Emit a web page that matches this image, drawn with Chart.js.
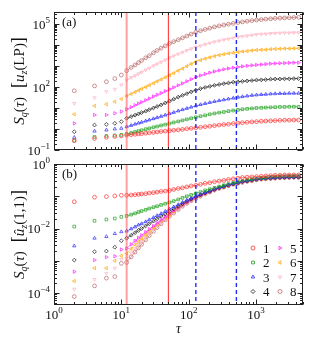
<!DOCTYPE html>
<html>
<head>
<meta charset="utf-8">
<script src="https://cdn.jsdelivr.net/npm/chart.js@4"></script>
<style>
body { margin: 0; background: #fff; }
#wrap { position: relative; width: 315px; height: 350px; }
canvas { position: absolute; left: 0; }
</style>
</head>
<body>
<div id="wrap">
  <canvas id="chartTop" width="315" height="157" style="top:0"></canvas>
  <canvas id="chartBottom" width="315" height="193" style="top:157px"></canvas>
</div>
<script>
// lag tau
const tauValues = [2,4,6,8,10, 12,14,16,18,20, 23,26,30,34,39, 45,52,60,70,81, 94,109,128,150,176,
  206,242,284,333,390, 460,540,630,740,870, 1020,1200,1400,1650,1930, 2270,2660,3120,3660,4300];

// (a) log10 S_q(tau) [u_z(LP)]
const lpQ1 = [-0.55,-0.45,-0.40,-0.36,-0.33, -0.29,-0.27,-0.25,-0.23,-0.22, -0.20,-0.18,-0.16,-0.14,-0.12, -0.10,-0.08,-0.06,-0.04,-0.02, 0.01,0.03,0.06,0.08,0.11, 0.13,0.16,0.19,0.21,0.23, 0.26,0.28,0.30,0.32,0.34, 0.35,0.37,0.38,0.39,0.40, 0.41,0.42,0.42,0.43,0.43];
const lpQ2 = [-0.56,-0.38,-0.33,-0.31,-0.28, -0.24,-0.19,-0.14,-0.10,-0.06, -0.01,0.03,0.08,0.12,0.17, 0.21,0.26,0.31,0.36,0.41, 0.46,0.51,0.56,0.61,0.65, 0.70,0.74,0.78,0.81,0.85, 0.88,0.91,0.94,0.96,0.98, 1.00,1.01,1.02,1.03,1.04, 1.05,1.05,1.06,1.06,1.06];
const lpQ3 = [-0.40,-0.10,-0.05,0.00,0.03, 0.11,0.17,0.23,0.28,0.32, 0.38,0.43,0.49,0.54,0.60, 0.66,0.73,0.79,0.86,0.92, 0.98,1.04,1.10,1.16,1.21, 1.26,1.31,1.35,1.39,1.43, 1.47,1.51,1.54,1.57,1.60, 1.62,1.64,1.65,1.67,1.68, 1.69,1.69,1.70,1.70,1.70];
const lpQ4 = [-0.13,0.19,0.22,0.27,0.35, 0.51,0.59,0.66,0.72,0.78, 0.85,0.92,1.00,1.07,1.15, 1.24,1.33,1.42,1.52,1.60, 1.68,1.77,1.85,1.92,1.98, 2.03,2.08,2.12,2.16,2.19, 2.23,2.25,2.27,2.29,2.31, 2.33,2.34,2.35,2.37,2.38, 2.38,2.39,2.39,2.40,2.40];
const lpQ5 = [0.27,0.67,0.67,0.75,0.83, 0.94,1.04,1.13,1.21,1.28, 1.37,1.45,1.55,1.63,1.71, 1.80,1.89,1.98,2.08,2.17, 2.27,2.37,2.47,2.55,2.62, 2.68,2.74,2.79,2.84,2.88, 2.92,2.95,2.98,3.01,3.03, 3.05,3.07,3.09,3.11,3.12, 3.13,3.14,3.15,3.16,3.16];
const lpQ6 = [0.70,1.10,1.18,1.30,1.43, 1.57,1.67,1.76,1.84,1.91, 2.00,2.08,2.18,2.27,2.36, 2.46,2.56,2.66,2.78,2.88, 2.99,3.10,3.20,3.28,3.35, 3.41,3.47,3.52,3.56,3.60, 3.63,3.66,3.69,3.71,3.74, 3.76,3.77,3.78,3.80,3.81, 3.82,3.83,3.83,3.84,3.84];
const lpQ7 = [1.22,1.49,1.78,1.89,2.10, 2.33,2.45,2.54,2.63,2.71, 2.81,2.90,3.01,3.10,3.19, 3.29,3.39,3.48,3.57,3.65, 3.74,3.82,3.90,3.96,4.03, 4.09,4.15,4.20,4.25,4.29, 4.34,4.38,4.41,4.44,4.47, 4.50,4.52,4.53,4.55,4.56, 4.57,4.58,4.58,4.59,4.59];
const lpQ8 = [1.82,2.05,2.25,2.40,2.57, 2.78,2.93,3.05,3.16,3.26, 3.39,3.49,3.63,3.74,3.85, 3.96,4.07,4.16,4.25,4.34, 4.43,4.52,4.61,4.68,4.74, 4.80,4.86,4.91,4.95,4.99, 5.03,5.07,5.10,5.13,5.16, 5.19,5.21,5.23,5.25,5.27, 5.28,5.29,5.30,5.31,5.32];

// (b) log10 S_q(tau) [u_z hat(1,1)]
const hatQ1 = [-1.17,-1.03,-1.01,-0.99,-0.97, -0.97,-0.96,-0.95,-0.94,-0.93, -0.92,-0.90,-0.89,-0.87,-0.85, -0.84,-0.82,-0.79,-0.76,-0.74, -0.71,-0.68,-0.66,-0.63,-0.60, -0.58,-0.55,-0.53,-0.51,-0.48, -0.46,-0.44,-0.42,-0.41,-0.40, -0.39,-0.38,-0.37,-0.36,-0.35, -0.35,-0.34,-0.34,-0.34,-0.34];
const hatQ2 = [-1.94,-1.76,-1.72,-1.69,-1.64, -1.61,-1.57,-1.53,-1.49,-1.46, -1.42,-1.38,-1.34,-1.31,-1.27, -1.23,-1.19,-1.15,-1.10,-1.05, -1.00,-0.96,-0.91,-0.87,-0.82, -0.78,-0.74,-0.70,-0.66,-0.62, -0.58,-0.55,-0.52,-0.49,-0.47, -0.45,-0.43,-0.42,-0.40,-0.39, -0.38,-0.38,-0.37,-0.37,-0.37];
const hatQ3 = [-2.54,-2.30,-2.25,-2.16,-2.10, -2.08,-2.01,-1.95,-1.89,-1.85, -1.79,-1.73,-1.66,-1.60,-1.54, -1.47,-1.40,-1.33,-1.26,-1.19, -1.12,-1.06,-1.00,-0.94,-0.88, -0.83,-0.78,-0.73,-0.69,-0.65, -0.61,-0.58,-0.54,-0.52,-0.49, -0.47,-0.45,-0.44,-0.43,-0.42, -0.41,-0.41,-0.40,-0.40,-0.40];
const hatQ4 = [-2.98,-2.72,-2.70,-2.58,-2.38, -2.30,-2.21,-2.13,-2.06,-2.00, -1.92,-1.85,-1.77,-1.70,-1.62, -1.55,-1.47,-1.39,-1.31,-1.23, -1.16,-1.09,-1.02,-0.96,-0.90, -0.85,-0.79,-0.74,-0.70,-0.66, -0.62,-0.58,-0.55,-0.53,-0.50, -0.48,-0.46,-0.45,-0.44,-0.43, -0.42,-0.42,-0.41,-0.41,-0.41];
const hatQ5 = [-3.34,-2.98,-2.89,-2.86,-2.65, -2.62,-2.49,-2.38,-2.29,-2.21, -2.11,-2.02,-1.92,-1.83,-1.73, -1.64,-1.54,-1.45,-1.36,-1.27, -1.19,-1.11,-1.04,-0.97,-0.91, -0.86,-0.80,-0.75,-0.71,-0.66, -0.62,-0.59,-0.56,-0.53,-0.51, -0.48,-0.46,-0.45,-0.44,-0.43, -0.42,-0.42,-0.41,-0.41,-0.41];
const hatQ6 = [-3.63,-3.23,-3.23,-3.00,-2.85, -2.78,-2.63,-2.50,-2.40,-2.31, -2.19,-2.08,-1.97,-1.87,-1.77, -1.67,-1.57,-1.47,-1.37,-1.28, -1.20,-1.12,-1.05,-0.98,-0.92, -0.86,-0.80,-0.75,-0.71,-0.67, -0.63,-0.59,-0.56,-0.53,-0.51, -0.49,-0.47,-0.45,-0.44,-0.43, -0.42,-0.42,-0.41,-0.41,-0.41];
const hatQ7 = [-3.88,-3.58,-3.39,-3.23,-2.96, -2.92,-2.76,-2.62,-2.50,-2.40, -2.27,-2.15,-2.03,-1.92,-1.81, -1.70,-1.60,-1.50,-1.39,-1.30, -1.21,-1.13,-1.06,-0.99,-0.92, -0.86,-0.81,-0.76,-0.71,-0.67, -0.63,-0.60,-0.57,-0.54,-0.51, -0.49,-0.47,-0.46,-0.44,-0.43, -0.42,-0.42,-0.41,-0.41,-0.41];
const hatQ8 = [-4.11,-3.78,-3.54,-3.49,-3.08, -3.05,-2.88,-2.73,-2.60,-2.49, -2.35,-2.22,-2.09,-1.97,-1.85, -1.73,-1.62,-1.52,-1.41,-1.31, -1.22,-1.14,-1.07,-1.00,-0.93, -0.87,-0.81,-0.76,-0.72,-0.67, -0.63,-0.60,-0.57,-0.54,-0.52, -0.49,-0.47,-0.46,-0.45,-0.44, -0.43,-0.42,-0.42,-0.41,-0.41];

const seriesNames = ['1','2','3','4','5','6','7','8'];
const seriesColors = ['#ff3030','#22a022','#2b2bff','#111111','#ff22ff','#ffa500','#ffb0c0','#b86464'];
const seriesMarkers = ['circle','rect','triangle','rectRot','triangle','triangle','triangle','circle'];
const seriesRotations = [0,0,0,0,90,270,180,0];

// vertical guide lines
const guideTau = [12, 50, 128, 512];
const guideColors = ['rgba(255,80,80,0.55)','rgba(255,0,0,0.85)','#1f2ff0','#1f2ff0'];
const guideDash = [[], [], [4,3], [4,3]];
const guideWidths = [2, 1, 1.4, 1.4];

const xTickExps = [0, 1, 2, 3];
const topTickExps = [-1, 2, 5];
const bottomTickExps = [-4, -2, 0];
const xTitle = 'τ';

const SERIF = "'Liberation Serif','DejaVu Serif',serif";

function drawRich(ctx, parts, x, y) {
  let cx = x;
  parts.forEach(p => {
    ctx.font = p.f;
    ctx.fillText(p.t, cx, y + (p.dy || 0));
    cx += ctx.measureText(p.t).width;
  });
}
function richWidth(ctx, parts) {
  let w = 0;
  parts.forEach(p => { ctx.font = p.f; w += ctx.measureText(p.t).width; });
  return w;
}
function powParts(e) {
  return [{ t: '10', f: '13px ' + SERIF }, { t: String(e).replace('-', '\u2212'), f: '9px ' + SERIF, dy: -6 }];
}
function titleParts(u, arg) {
  const n = '15px ' + SERIF, it = 'italic 15px ' + SERIF, sub = 'italic 10px ' + SERIF, br = '18px ' + SERIF;
  return [{t:'S',f:it},{t:'q',f:sub,dy:3},{t:'(',f:n},{t:'τ',f:it},{t:')',f:n},{t:'  [',f:br},
          {t:u,f:it},{t:'z',f:sub,dy:3},{t:arg,f:n},{t:']',f:br}];
}

const panelDecor = {
  id: 'panelDecor',
  afterDatasetsDraw(chart, args, opts) {
    const { ctx, chartArea: a, scales } = chart;
    const xs = scales.x, ys = scales.y;
    ctx.save();
    // guide lines
    ctx.beginPath();
    ctx.rect(a.left, a.top, a.right - a.left, a.bottom - a.top);
    ctx.clip();
    guideTau.forEach((t, i) => {
      const px = xs.getPixelForValue(t);
      ctx.strokeStyle = guideColors[i];
      ctx.lineWidth = guideWidths[i];
      ctx.setLineDash(guideDash[i]);
      ctx.beginPath();
      ctx.moveTo(px, a.top);
      ctx.lineTo(px, a.bottom);
      ctx.stroke();
    });
    ctx.restore();

    ctx.save();
    ctx.setLineDash([]);
    ctx.strokeStyle = '#222';
    ctx.lineWidth = 1;
    const L = Math.round(a.left) + 0.5, R = Math.round(a.right) - 0.5;
    const T = Math.round(a.top) + 0.5, B = Math.round(a.bottom) - 0.5;
    ctx.strokeRect(L, T, R - L, B - T);

    // inward log ticks on all sides
    ctx.beginPath();
    for (let e = -5; e <= 6; e++) {
      for (let m = 1; m < 10; m++) {
        const v = m * Math.pow(10, e);
        const len = m === 1 ? 5 : 2.5;
        if (v >= xs.min * 0.999 && v <= xs.max * 1.001) {
          const p = Math.round(xs.getPixelForValue(v)) + 0.5;
          ctx.moveTo(p, B); ctx.lineTo(p, B - len);
          ctx.moveTo(p, T); ctx.lineTo(p, T + len);
        }
        if (v >= ys.min * 0.999 && v <= ys.max * 1.001) {
          const p = Math.round(ys.getPixelForValue(v)) + 0.5;
          ctx.moveTo(L, p); ctx.lineTo(L + len, p);
          ctx.moveTo(R, p); ctx.lineTo(R - len, p);
        }
      }
    }
    ctx.stroke();

    ctx.fillStyle = '#111';
    ctx.textBaseline = 'alphabetic';
    ctx.textAlign = 'left';
    // y tick labels
    opts.yExps.forEach(e => {
      const parts = powParts(e);
      const w = richWidth(ctx, parts);
      const p = ys.getPixelForValue(Math.pow(10, e));
      drawRich(ctx, parts, 50 - w, p + 4.5);
    });
    // x tick labels
    if (opts.xLabels) {
      xTickExps.forEach(e => {
        const parts = powParts(e);
        const w = richWidth(ctx, parts);
        const p = xs.getPixelForValue(Math.pow(10, e));
        drawRich(ctx, parts, p - w / 2, B + 14);
      });
      ctx.font = 'italic 14px ' + SERIF;
      ctx.textAlign = 'center';
      ctx.fillText(xTitle, (a.left + a.right) / 2, B + 28);
      ctx.textAlign = 'left';
    }
    // panel tag
    ctx.font = '13px ' + SERIF;
    ctx.fillText(opts.tag, a.left + 8, a.top + 14);

    // y title
    const tp = opts.title;
    const tw = richWidth(ctx, tp);
    ctx.save();
    ctx.translate(24, (a.top + a.bottom) / 2);
    ctx.rotate(-Math.PI / 2);
    drawRich(ctx, tp, -tw / 2, 0);
    ctx.restore();

    // legend
    if (opts.legend) {
      const colX = [253, 280];
      const rowY = [248, 262.5, 277, 291.5];
      seriesNames.forEach((name, i) => {
        const cx = colX[Math.floor(i / 4)];
        const cy = rowY[i % 4] - 157;
        ctx.strokeStyle = seriesColors[i];
        ctx.fillStyle = 'rgba(0,0,0,0)';
        ctx.lineWidth = 0.8;
        Chart.helpers.drawPoint(ctx, { pointStyle: seriesMarkers[i], rotation: seriesRotations[i], radius: 2, borderWidth: 0.8 }, cx, cy);
        ctx.fillStyle = '#111';
        ctx.font = '13px ' + SERIF;
        ctx.fillText(name, cx + 10, cy + 4.5);
      });
    }
    ctx.restore();
  }
};

function makeDatasets(logSeries) {
  return logSeries.map((vals, i) => ({
    label: seriesNames[i],
    data: tauValues.map((t, k) => ({ x: t, y: Math.pow(10, vals[k]) })),
    showLine: true,
    borderColor: seriesColors[i],
    backgroundColor: 'rgba(0,0,0,0)',
    borderWidth: 0.6,
    pointStyle: seriesMarkers[i],
    pointRotation: seriesRotations[i],
    pointRadius: 1.9,
    pointBorderWidth: 0.7,
    pointBorderColor: seriesColors[i],
    pointBackgroundColor: 'rgba(0,0,0,0)',
    segment: { borderColor: c => (c.p0.parsed.x < 11 ? 'rgba(0,0,0,0)' : undefined) }
  }));
}

function makeOptions(yMin, yMax, padTop, xAxisHeight, decor) {
  return {
    responsive: false,
    animation: false,
    layout: { padding: { left: 0, right: 12, top: padTop, bottom: 0 } },
    plugins: { legend: { display: false }, tooltip: { enabled: false }, panelDecor: decor },
    scales: {
      x: {
        type: 'logarithmic', min: 1, max: 5000,
        ticks: { display: false }, grid: { display: false }, border: { display: false },
        afterFit: s => { s.height = xAxisHeight; }
      },
      y: {
        type: 'logarithmic', min: yMin, max: yMax,
        ticks: { display: false }, grid: { display: false }, border: { display: false },
        afterFit: s => { s.width = 54; }
      }
    }
  };
}

new Chart(document.getElementById('chartTop'), {
  type: 'scatter',
  data: { datasets: makeDatasets([lpQ1, lpQ2, lpQ3, lpQ4, lpQ5, lpQ6, lpQ7, lpQ8]) },
  options: makeOptions(0.1, 3.73e5, 12, 7,
    { yExps: topTickExps, xLabels: false, tag: '(a)', legend: false, title: titleParts('u', '(LP)') }),
  plugins: [panelDecor]
});

new Chart(document.getElementById('chartBottom'), {
  type: 'scatter',
  data: { datasets: makeDatasets([hatQ1, hatQ2, hatQ3, hatQ4, hatQ5, hatQ6, hatQ7, hatQ8]) },
  options: makeOptions(4.25e-5, 1, 7, 45,
    { yExps: bottomTickExps, xLabels: true, tag: '(b)', legend: true, title: titleParts('û', '(1,1)') }),
  plugins: [panelDecor]
});
</script>
</body>
</html>
